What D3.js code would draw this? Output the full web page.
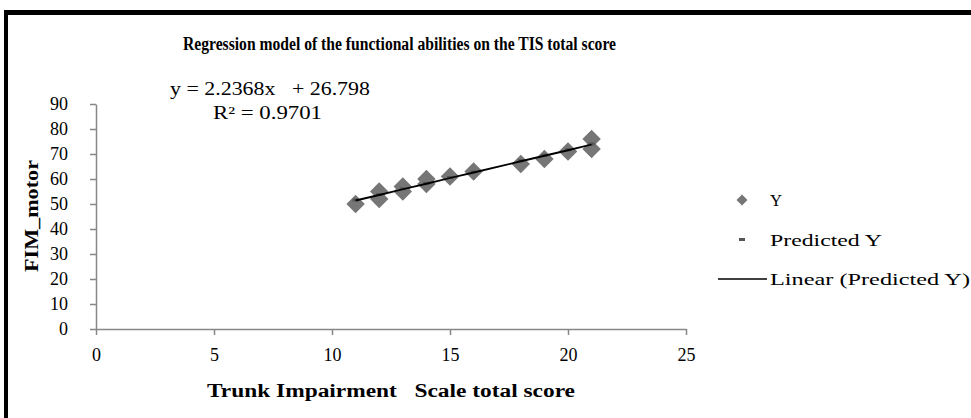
<!DOCTYPE html>
<html>
<head>
<meta charset="utf-8">
<script src="https://cdn.jsdelivr.net/npm/d3@7"></script>
<style>
    html, body { margin: 0; padding: 0; background: #fff; }
    svg text { font-family: "Liberation Serif", "DejaVu Serif", serif; fill: #000; }
</style>
</head>
<body>
<svg id="chart" width="971" height="418"></svg>
<script>
// observed scores (Y) against TIS total score
const tisScore = [11, 12, 12, 13, 13, 14, 14, 15, 16, 18, 19, 20, 21, 21];
const fimMotor = [50, 55, 52, 57, 55, 60, 58, 61, 63, 66, 68, 71, 76, 72];

// predicted Y at each distinct TIS score
const predX = [11, 12, 13, 14, 15, 16, 18, 19, 20, 21];
const predY = [51.4, 53.6, 55.9, 58.1, 60.4, 62.6, 67.1, 69.3, 71.5, 73.8];

const xTicks = [0, 5, 10, 15, 20, 25];
const yTicks = [0, 10, 20, 30, 40, 50, 60, 70, 80, 90];

const titleText = "Regression model of the functional abilities on the TIS total score";
const equationText = "y = 2.2368x   + 26.798";
const r2Text = "R\u00b2 = 0.9701";
const xTitle = "Trunk Impairment   Scale total score";
const yTitle = "FIM_motor";
const legendLabels = ["Y", "Predicted Y", "Linear (Predicted Y)"];

const svg = d3.select("#chart");

// frame: thick black top and left edges
svg.append("rect").attr("x", 4).attr("y", 10).attr("width", 967).attr("height", 5).attr("fill", "#000");
svg.append("rect").attr("x", 4).attr("y", 10).attr("width", 4).attr("height", 408).attr("fill", "#000");

const x = d3.scaleLinear().domain([0, 25]).range([96, 686]);
const y = d3.scaleLinear().domain([0, 90]).range([329, 104]);

const axisColor = "#878787";

const xAxis = svg.append("g")
    .attr("transform", `translate(0,${y(0)})`)
    .call(d3.axisBottom(x).tickValues(xTicks).tickSize(6).tickPadding(13).tickSizeOuter(0));
const yAxis = svg.append("g")
    .attr("transform", `translate(${x(0)},0)`)
    .call(d3.axisLeft(y).tickValues(yTicks).tickSize(6).tickPadding(22).tickSizeOuter(0));

[xAxis, yAxis].forEach(g => {
    g.select(".domain").attr("stroke", axisColor).attr("stroke-width", 1.5);
    g.selectAll(".tick line").attr("stroke", axisColor).attr("stroke-width", 1.5);
    g.selectAll(".tick text")
        .attr("font-family", "Liberation Serif")
        .attr("font-size", 18)
        .attr("fill", "#000");
});

// observed points
const diamond = d3.symbol().type(d3.symbolSquare).size(170);
svg.append("g")
    .selectAll("path")
    .data(tisScore.map((d, i) => [d, fimMotor[i]]))
    .enter().append("path")
    .attr("d", diamond)
    .attr("transform", d => `translate(${x(d[0])},${y(d[1])}) rotate(45)`)
    .attr("fill", "#767676");

// predicted markers
svg.append("g")
    .selectAll("rect")
    .data(predX.map((d, i) => [d, predY[i]]))
    .enter().append("rect")
    .attr("x", d => x(d[0]) - 3)
    .attr("y", d => y(d[1]) - 2)
    .attr("width", 6).attr("height", 3)
    .attr("fill", "#555");

// linear trend of predicted Y
const line = d3.line().x(d => x(d[0])).y(d => y(d[1]));
svg.append("path")
    .datum(predX.map((d, i) => [d, predY[i]]))
    .attr("d", line)
    .attr("fill", "none")
    .attr("stroke", "#000")
    .attr("stroke-width", 1.8);

// titles
svg.append("text")
    .attr("x", 183).attr("y", 50)
    .attr("font-size", 18).attr("font-weight", "bold")
    .attr("textLength", 433).attr("lengthAdjust", "spacingAndGlyphs")
    .text(titleText);

svg.append("text")
    .attr("x", 170).attr("y", 95)
    .attr("font-size", 18)
    .attr("textLength", 200).attr("lengthAdjust", "spacingAndGlyphs")
    .style("white-space", "pre")
    .text(equationText);

svg.append("text")
    .attr("x", 213).attr("y", 119)
    .attr("font-size", 18)
    .attr("textLength", 109).attr("lengthAdjust", "spacingAndGlyphs")
    .text(r2Text);

svg.append("text")
    .attr("x", 207).attr("y", 397)
    .attr("font-size", 18).attr("font-weight", "bold")
    .attr("textLength", 368).attr("lengthAdjust", "spacingAndGlyphs")
    .style("white-space", "pre")
    .text(xTitle);

svg.append("text")
    .attr("transform", "translate(38,216) rotate(-90)")
    .attr("text-anchor", "middle")
    .attr("font-size", 18).attr("font-weight", "bold")
    .attr("textLength", 112).attr("lengthAdjust", "spacingAndGlyphs")
    .text(yTitle);

// legend
const legend = svg.append("g");
legend.append("path")
    .attr("d", d3.symbol().type(d3.symbolSquare).size(60))
    .attr("transform", "translate(742,200) rotate(45)")
    .attr("fill", "#767676");
legend.append("rect")
    .attr("x", 739).attr("y", 238).attr("width", 6).attr("height", 3)
    .attr("fill", "#555");
legend.append("line")
    .attr("x1", 718).attr("x2", 767).attr("y1", 279).attr("y2", 279)
    .attr("stroke", "#000").attr("stroke-width", 1.3);

const legendY = [200, 240, 279];
const legendW = [12, 112, 200];
legend.selectAll("text")
    .data(legendLabels)
    .enter().append("text")
    .attr("x", 770)
    .attr("y", (d, i) => legendY[i] + 6)
    .attr("font-size", 17)
    .attr("textLength", (d, i) => legendW[i])
    .attr("lengthAdjust", "spacingAndGlyphs")
    .text(d => d);
</script>
</body>
</html>
